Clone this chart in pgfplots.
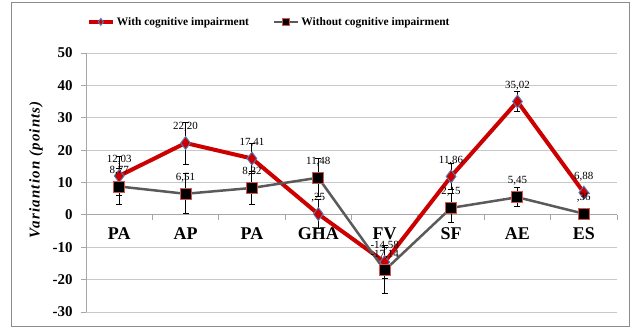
\documentclass[border=0pt]{standalone}
\usepackage{fontspec}
\setmainfont{Liberation Serif}
\usepackage{pgfplots}
\pgfplotsset{compat=1.18}

\definecolor{withred}{HTML}{CC0000}
\definecolor{edgeblue}{HTML}{4F81BD}
\definecolor{woutgrey}{HTML}{5A5A5A}
\definecolor{edgered}{HTML}{D9534F}
\definecolor{gridgrey}{HTML}{C8C8C8}
\definecolor{axisgrey}{HTML}{A6A6A6}
\definecolor{framegrey}{HTML}{8C8C8C}

% x: category index, y: mean variation, e: error half-width, lab: printed value
\pgfplotstableread{
x  y       e    lab
0  12.03   6.0  12,03
1  22.20   6.5  22,20
2  17.41   4.6  17,41
3  0.25    4.5  ,25
4  -14.58  5.0  -14,58
5  11.86   3.9  11,86
6  35.02   3.0  35,02
7  6.88    0.0  6,88
}\withci

\pgfplotstableread{
x  y       e    lab
0  8.77    5.5  8,77
1  6.51    6.2  6,51
2  8.32    5.2  8,32
3  11.48   5.8  11,48
4  -17.14  7.0  -17,14
5  2.15    4.4  2,15
6  5.45    3.0  5,45
7  0.36    0.0  ,36
}\withoutci

\begin{document}
\begin{tikzpicture}[x=1bp,y=1bp]
\begin{axis}[
  scale only axis,
  width=531bp, height=259bp,
  xmin=-0.5, xmax=7.5,
  ymin=-30, ymax=50,
  axis x line*=middle,
  axis y line*=left,
  axis line style={axisgrey, line width=0.8bp},
  xtick={0,...,7},
  xticklabels={PA,AP,PA,GHA,FV,SF,AE,ES},
  major x tick style={draw=none},
  minor xtick={-0.5,0.5,...,7.5},
  minor x tick style={axisgrey, line width=0.8bp},
  minor tick length=5bp,
  xtick align=outside,
  xticklabel style={font=\fontsize{18}{20}\selectfont\bfseries, yshift=-4bp},
  ytick={-30,-20,...,50},
  ytick align=outside,
  major tick length=5bp,
  y tick style={axisgrey, line width=0.8bp},
  yticklabel style={font=\fontsize{15}{17}\selectfont\bfseries, xshift=-5bp},
  /pgf/number format/assume math mode=true,
  ymajorgrids,
  grid style={gridgrey, line width=0.8bp},
  ylabel={\fontsize{15}{17}\selectfont\addfontfeatures{LetterSpace=8}\bfseries\itshape Variantion (points)},
  every axis y label/.style={at={(axis description cs:-0.094,0.55)}, rotate=90, anchor=center},
  clip=false,
  legend columns=2,
  legend style={at={(axis description cs:0.345,1.12)}, anchor=center, draw=none, fill=none,
    font=\fontsize{11.5}{13}\selectfont\bfseries,
    /tikz/every even column/.append style={column sep=22bp}},
  legend image code/.code={
    \draw[#1, mark=none] (0bp,0bp) -- (24bp,0bp);
    \draw[#1, only marks, mark size=3.5bp] plot coordinates {(12bp,0bp)};
  },
  nodes near coords,
  point meta=explicit symbolic,
  every node near coord/.append style={font=\fontsize{11}{12}\selectfont, text=black, anchor=center, yshift=16bp, inner sep=0pt},
  error bars/y dir=both,
  error bars/y explicit,
  error bars/error bar style={black, line width=0.9bp},
  error bars/error mark options={rotate=90, mark size=3bp, black, line width=0.9bp},
]
\addplot[withred, line width=4bp,
  mark=diamond*, mark size=6.5bp,
  mark options={fill=withred, draw=edgeblue, line width=0.9bp}]
  table[x=x, y=y, y error=e, meta=lab] {\withci};
\addlegendentry{With cognitive impairment}

\addplot[woutgrey, line width=2.5bp,
  mark=square*, mark size=5.5bp,
  mark options={fill=black, draw=edgered, line width=0.9bp}]
  table[x=x, y=y, y error=e, meta=lab] {\withoutci};
\addlegendentry{Without cognitive impairment}

\coordinate (sw) at (rel axis cs:0,0);
\coordinate (ne) at (rel axis cs:1,1);
\end{axis}
\draw[framegrey, line width=1bp] ([shift={(-74bp,-15bp)}]sw) rectangle ([shift={(12bp,50bp)}]ne);
\path[use as bounding box] ([shift={(-86bp,-17bp)}]sw) rectangle ([shift={(14bp,53bp)}]ne);
\end{tikzpicture}
\end{document}
